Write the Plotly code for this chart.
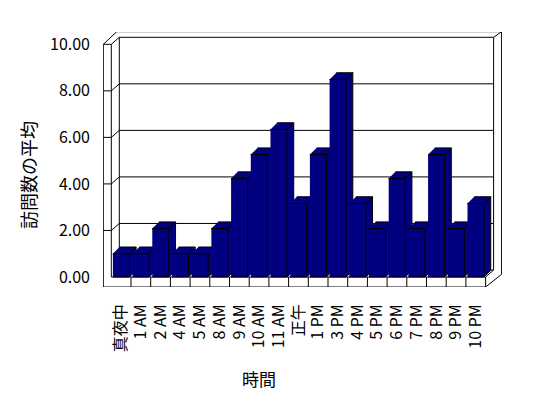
import plotly.graph_objects as go

# ---- data ----
categories = ["真夜中", "1 AM", "2 AM", "4 AM", "5 AM", "8 AM", "9 AM", "10 AM", "11 AM",
              "正午", "1 PM", "3 PM", "4 PM", "5 PM", "6 PM", "7 PM", "8 PM", "9 PM", "10 PM"]
values = [1.0, 1.0, 2.08, 1.0, 1.0, 2.08, 4.23, 5.26, 6.34,
          3.16, 5.26, 8.49, 3.16, 2.08, 4.23, 2.08, 5.26, 2.08, 3.16]
y_ticks = [0, 2, 4, 6, 8, 10]
y_ticktext = ["0.00", "2.00", "4.00", "6.00", "8.00", "10.00"]
x_title = "時間"
y_title = "訪問数の平均"

# ---- geometry (pixel scale of the axes) ----
W, H = 548, 398
ML, MR, MT, MB = 103, 46, 32, 111
PX_X = 19.7    # px per category
PX_Y = 23.27   # px per value unit
n = len(categories)

def dxp(px):
    return px / PX_X

def dyp(px):
    return px / PX_Y

x_lo = -0.5 - dxp(8.3)
x_hi = x_lo + (W - ML - MR) / PX_X
y_lo = -dyp(10)
y_hi = y_lo + (H - MT - MB) / PX_Y

WX, WY = dxp(8), dyp(7)          # back wall depth offset
LX = -0.5 - dxp(8)                # outer left of left wall
YB = -dyp(10)                     # floor slab bottom
XR = n - 0.5                      # front right edge
ORX = XR + dxp(16)                # outer right
TOPO = 10 + dyp(12.6)             # outer top
ymax = y_ticks[-1]

shapes = []
def line(x0, y0, x1, y1):
    shapes.append(dict(type="line", xref="x", yref="y", x0=x0, y0=y0, x1=x1, y1=y1,
                       line=dict(color="black", width=1), layer="below"))

# left wall
line(LX, YB, LX, ymax)
line(LX, ymax, -0.5, ymax)
line(-0.5, 0, -0.5, ymax)
line(LX, ymax, LX + dxp(13.4), TOPO)
line(-0.5, ymax, -0.5 + WX, ymax + WY)
# back wall
line(-0.5 + WX, WY, -0.5 + WX, ymax + WY)
line(-0.5 + WX, ymax + WY, XR + WX, ymax + WY)
line(XR + WX, WY, XR + WX, ymax + WY)
line(-0.5 + WX, WY, XR + WX, WY)
line(LX + dxp(13.4), TOPO, ORX, TOPO)
line(XR + WX, ymax + WY, ORX, TOPO)
line(ORX, TOPO, ORX, YB + dyp(12.7))
line(XR, YB, ORX, YB + dyp(12.7))
line(XR, 0, XR + WX, WY)
# gridlines
for v in y_ticks[1:-1]:
    line(-0.5 + WX, v + WY, XR + WX, v + WY)
    line(-0.5, v, -0.5 + WX, v + WY)
    line(LX, v, -0.5, v)
# floor front
line(-0.5, 0, XR, 0)
line(LX, YB, XR, YB)
line(XR, YB, XR, 0)
for i in range(n - 1):
    line(i + 0.5, YB, i + 0.5, 0)

fig = go.Figure()
HW = 0.42
BDX, BDY = dxp(6.7), dyp(6.7)
for i, v in enumerate(values):
    x0, x1 = i - HW, i + HW
    xs = [x1, x1 + BDX, x1 + BDX, x1, None,
          x0, x1, x1 + BDX, x0 + BDX, None,
          x0, x1, x1, x0]
    ys = [0, BDY, v + BDY, v, None,
          v, v, v + BDY, v + BDY, None,
          0, 0, v, v]
    fig.add_trace(go.Scatter(x=xs, y=ys, mode="lines", fill="toself",
                             fillcolor="#000080", line=dict(color="black", width=1),
                             hoverinfo="skip", showlegend=False))

FONT = "Noto Sans CJK JP"
fig.update_layout(
    width=W, height=H,
    margin=dict(l=ML, r=MR, t=MT, b=MB, pad=0),
    paper_bgcolor="white", plot_bgcolor="white",
    font=dict(family=FONT, size=16, color="black"),
    shapes=shapes,
    showlegend=False,
    xaxis=dict(range=[x_lo, x_hi], tickvals=list(range(n)), ticktext=categories,
               tickangle=-90, showgrid=False, zeroline=False, showline=False,
               ticks="", ticklabelstandoff=13, fixedrange=True,
               tickfont=dict(family=FONT, size=16, color="black")),
    yaxis=dict(range=[y_lo, y_hi], tickvals=y_ticks, ticktext=y_ticktext,
               showgrid=False, zeroline=False, showline=False, ticks="",
               ticklabelstandoff=12, fixedrange=True,
               tickfont=dict(family=FONT, size=16, color="black")),
    annotations=[
        dict(text=y_title, xref="paper", yref="paper",
             x=(28 - ML) / (W - ML - MR), y=(H - MB - 175) / (H - MT - MB),
             textangle=-90, showarrow=False, xanchor="center", yanchor="middle",
             font=dict(family=FONT, size=18)),
        dict(text=x_title, xref="paper", yref="paper",
             x=(259 - ML) / (W - ML - MR), y=(H - MB - 378) / (H - MT - MB),
             showarrow=False, xanchor="center", yanchor="middle",
             font=dict(family=FONT, size=17)),
    ],
)
fig.write_html("out.html", config={"displayModeBar": False},
               post_script="document.body.style.margin='0';document.body.style.padding='0';")
